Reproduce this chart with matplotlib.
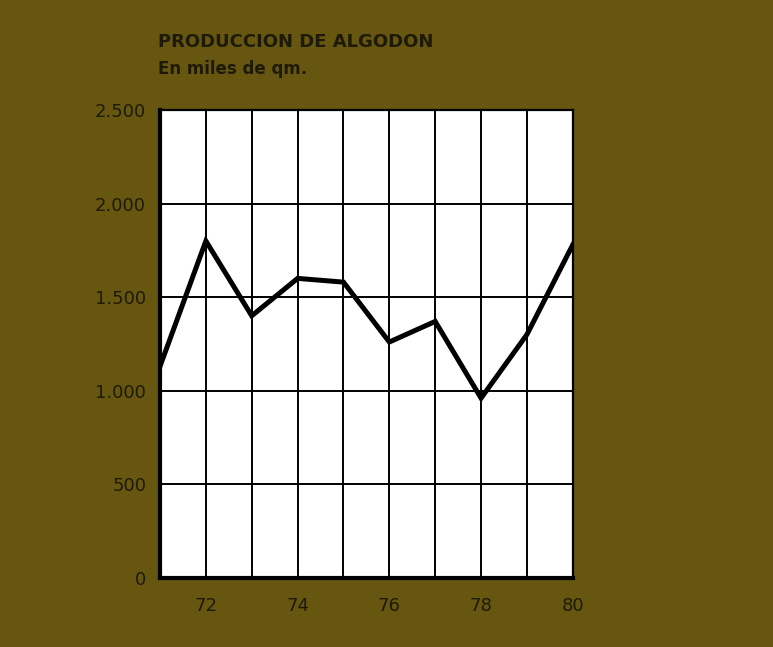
import matplotlib.pyplot as plt
from matplotlib.ticker import FuncFormatter

years = [71, 72, 73, 74, 75, 76, 77, 78, 79, 80]
produccion = [1130, 1800, 1400, 1600, 1580, 1260, 1370, 960, 1300, 1780]
xticks = [72, 74, 76, 78, 80]
yticks = [0, 500, 1000, 1500, 2000, 2500]

bg = '#665610'
ink = '#1e1a08'
font = ['Liberation Sans Narrow', 'DejaVu Sans Condensed', 'DejaVu Sans']

fig = plt.figure(figsize=(7.73, 6.47), dpi=100, facecolor=bg)
ax = fig.add_axes([0.207, 0.107, 0.534, 0.723])
ax.set_facecolor('white')

ax.plot(years, produccion, color='black', lw=3.6, solid_joinstyle='miter', zorder=3)

ax.set_xlim(71, 80)
ax.set_ylim(0, 2500)
ax.set_xticks(range(71, 81), minor=True)
ax.set_xticks(xticks)
ax.set_yticks(yticks)
ax.yaxis.set_major_formatter(FuncFormatter(lambda v, p: f'{int(v):,}'.replace(',', '.')))
ax.grid(True, which='both', axis='x', color='black', lw=1.4)
ax.grid(True, which='major', axis='y', color='black', lw=1.4)
ax.tick_params(which='both', length=0, labelcolor=ink, labelsize=13)
ax.tick_params(axis='x', pad=14)
ax.tick_params(axis='y', pad=10)
for lab in ax.get_xticklabels() + ax.get_yticklabels():
    lab.set_family(font)

for s in ax.spines.values():
    s.set_color('black')
    s.set_linewidth(1.6)
ax.spines['left'].set_linewidth(3)
ax.spines['bottom'].set_linewidth(3)

fig.text(0.204, 0.928, 'PRODUCCION DE ALGODON', color=ink, fontsize=13,
         fontweight='bold', family=font, va='baseline')
fig.text(0.204, 0.886, 'En miles de qm.', color=ink, fontsize=12,
         fontweight='bold', family=font, va='baseline')

plt.savefig('out.png', dpi=100, facecolor=bg)
